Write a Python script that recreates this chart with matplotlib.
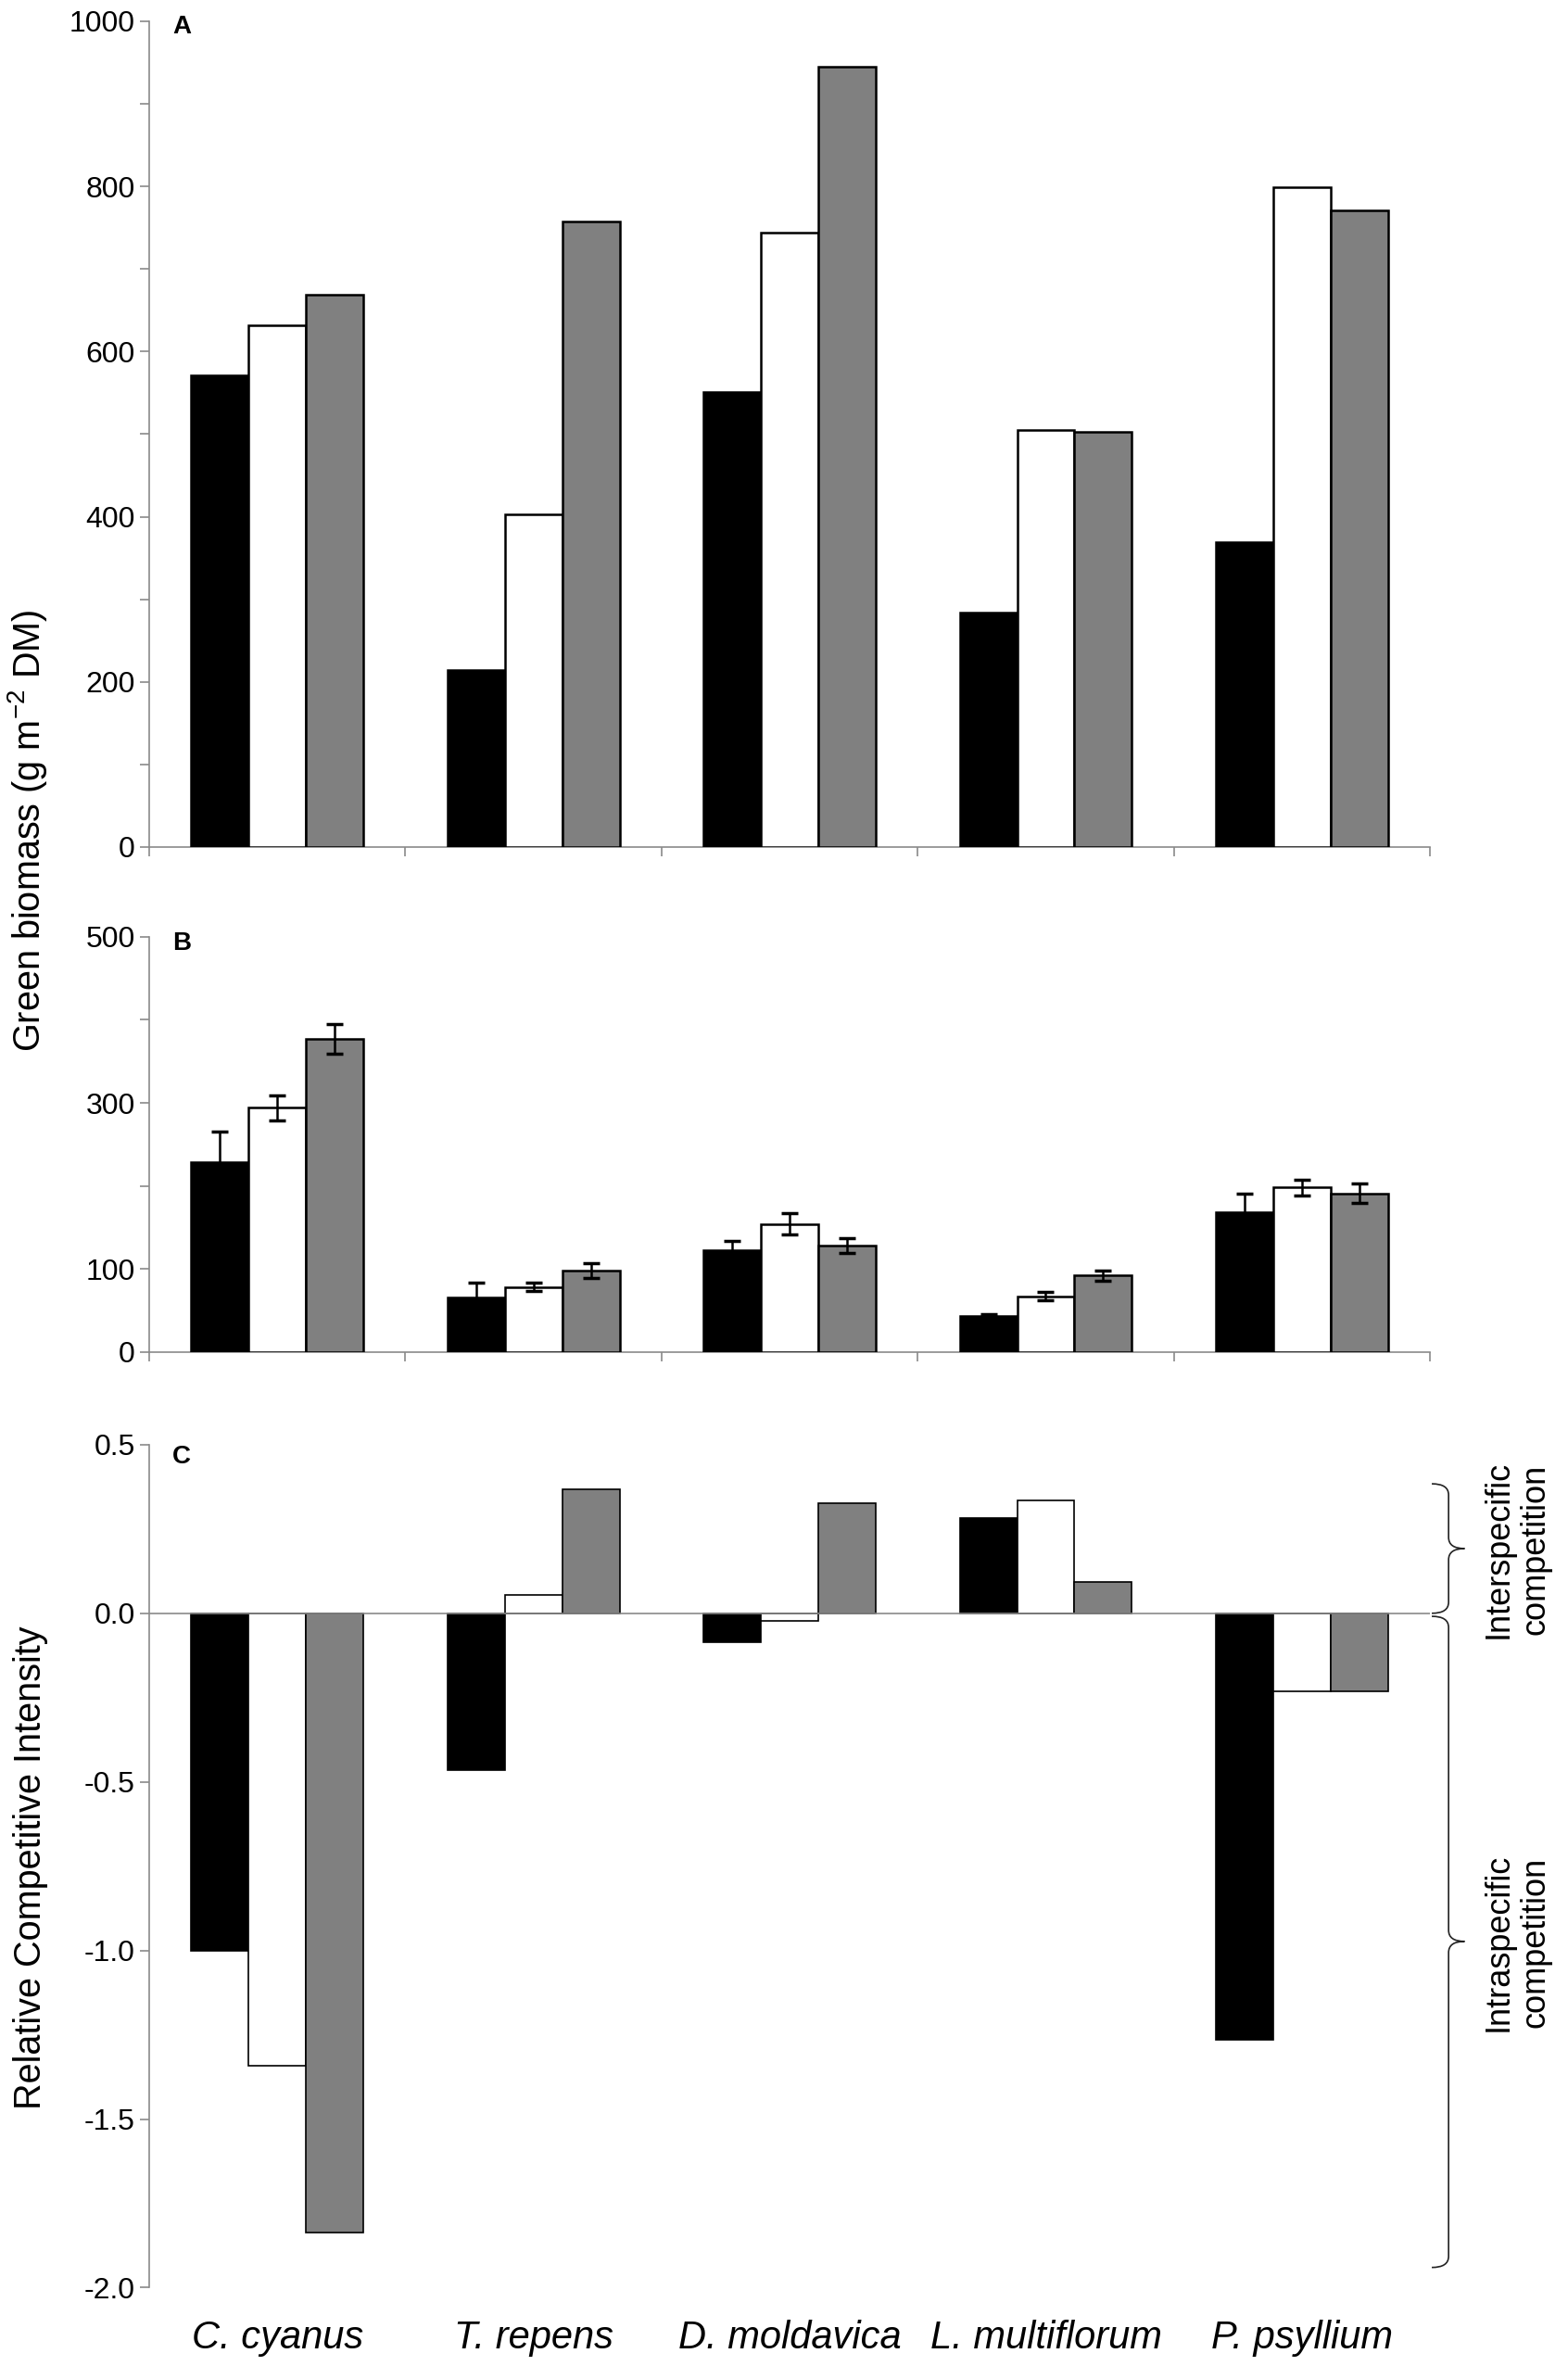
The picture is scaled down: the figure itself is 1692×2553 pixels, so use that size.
import numpy as np
import matplotlib
matplotlib.use("Agg")
import matplotlib.pyplot as plt
from matplotlib.path import Path
from matplotlib.patches import PathPatch
from matplotlib.transforms import blended_transform_factory

plt.rcParams['font.family'] = ['Liberation Sans', 'DejaVu Sans']
plt.rcParams['mathtext.fontset'] = 'custom'
plt.rcParams['mathtext.rm'] = 'Liberation Sans'

species = ['C. cyanus', 'T. repens', 'D. moldavica', 'L. multiflorum', 'P. psyllium']

# panel A - green biomass
a_black = [571, 214, 551, 284, 369]
a_white = [632, 403, 744, 505, 799]
a_grey = [669, 757, 945, 503, 771]

# panel B - green biomass with errors
b_black = [229, 65, 122, 43, 168]
b_black_err = [36, 18, 12, 2, 22]
b_white = [294, 78, 154, 67, 198]
b_white_err = [15, 5, 13, 5, 9.5]
b_grey = [377, 98, 128, 92, 191]
b_grey_err = [18, 9, 9, 6, 12]

# panel C - relative competitive intensity
c_black = [-1.0, -0.465, -0.085, 0.282, -1.264]
c_white = [-1.343, 0.054, -0.022, 0.334, -0.232]
c_grey = [-1.836, 0.369, 0.327, 0.093, -0.232]

axis_col = '#8a8a8a'
grey = '#808080'
w = 0.224
x = np.arange(len(species))

fig = plt.figure(figsize=(16.92, 25.53), dpi=100)
axA = fig.add_axes([0.0952, 0.642, 0.8168, 0.991 - 0.642])
axB = fig.add_axes([0.0952, 0.4287, 0.8168, 0.604 - 0.4287])
axC = fig.add_axes([0.0952, 0.0331, 0.8168, 0.3894 - 0.0331])


def style(ax):
    for s in ['top', 'right']:
        ax.spines[s].set_visible(False)
    for s in ['left', 'bottom']:
        ax.spines[s].set_color(axis_col)
        ax.spines[s].set_linewidth(1.2)
    ax.tick_params(axis='both', which='both', colors=axis_col, width=1.2, length=7,
                   labelcolor='black', labelsize=23, pad=4)
    ax.set_xlim(-0.5, 4.5)


def bars(ax, vals, errs=None, lw=1.8):
    cols = ['black', 'white', grey]
    for i, (v, c) in enumerate(zip(vals, cols)):
        e = None if errs is None else errs[i]
        ax.bar(x + (i - 1) * w, v, w, color=c, edgecolor='black', linewidth=lw,
               yerr=e, capsize=6.5,
               error_kw=dict(ecolor='black', elinewidth=1.8, capthick=2.5), zorder=3)


# A
style(axA)
bars(axA, [a_black, a_white, a_grey])
axA.set_ylim(0, 1000)
axA.set_yticks(np.arange(0, 1001, 200))
axA.set_yticks(np.arange(100, 1000, 200), minor=True)
axA.set_xticks(np.arange(-0.5, 5, 1))
axA.set_xticklabels([])
axA.tick_params(axis='x', direction='out')
axA.text(0.018, 0.993, 'A', transform=axA.transAxes, fontsize=20, fontweight='bold',
         va='center', ha='left')

# B
style(axB)
bars(axB, [b_black, b_white, b_grey], [b_black_err, b_white_err, b_grey_err])
axB.set_ylim(0, 500)
axB.set_yticks([0, 100, 300, 500])
axB.set_yticks([200, 400], minor=True)
axB.set_xticks(np.arange(-0.5, 5, 1))
axB.set_xticklabels([])
axB.text(0.018, 0.984, 'B', transform=axB.transAxes, fontsize=20, fontweight='bold',
         va='center', ha='left')

# C
style(axC)
bars(axC, [c_black, c_white, c_grey], lw=1.2)
axC.spines['bottom'].set_visible(False)
axC.axhline(0, color=axis_col, linewidth=1.2, zorder=4)
axC.set_ylim(-2.0, 0.5)
axC.set_yticks(np.arange(-2.0, 0.51, 0.5))
axC.set_yticklabels(['%.1f' % v for v in np.arange(-2.0, 0.51, 0.5)])
axC.set_xticks(x)
axC.set_xticklabels(species, fontsize=30, style='italic')
axC.tick_params(axis='x', length=0, pad=25)
axC.text(0.018, 0.986, 'C', transform=axC.transAxes, fontsize=20, fontweight='bold',
         va='center', ha='left')

# y labels
fig.text(0.0177, 0.649, 'Green biomass (g m$^{-2}$ DM)', rotation=90, fontsize=28.5,
         ha='center', va='center')
fig.text(0.0195, 0.2107, 'Relative Competitive Intensity', rotation=90, fontsize=28.5,
         ha='center', va='center')


# braces on the right of panel C
def brace(ax, ytop, ybot, ymid, xh=1.0014, xv=1.0145, xt=1.027, r=0.033):
    tr = blended_transform_factory(ax.transAxes, ax.transData)
    verts = [(xh, ytop), (xv, ytop), (xv, ytop - r),
             (xv, ymid + r), (xv, ymid), (xt, ymid),
             (xv, ymid), (xv, ymid - r),
             (xv, ybot + r), (xv, ybot), (xh, ybot)]
    codes = [Path.MOVETO, Path.CURVE3, Path.CURVE3,
             Path.LINETO, Path.CURVE3, Path.CURVE3,
             Path.CURVE3, Path.CURVE3,
             Path.LINETO, Path.CURVE3, Path.CURVE3]
    p = PathPatch(Path(verts, codes), transform=tr, fill=False, edgecolor='#222222',
                  linewidth=1.2, clip_on=False)
    ax.add_patch(p)


brace(axC, 0.384, 0.0, 0.192)
brace(axC, -0.009, -1.94, -0.973)

fig.text(0.9675, 0.345, 'Interspecific\ncompetition', rotation=90, fontsize=26,
         ha='center', va='center', multialignment='center', linespacing=1.15)
fig.text(0.9675, 0.179, 'Intraspecific\ncompetition', rotation=90, fontsize=26,
         ha='center', va='center', multialignment='center', linespacing=1.15)

fig.savefig('out.png', dpi=100)
